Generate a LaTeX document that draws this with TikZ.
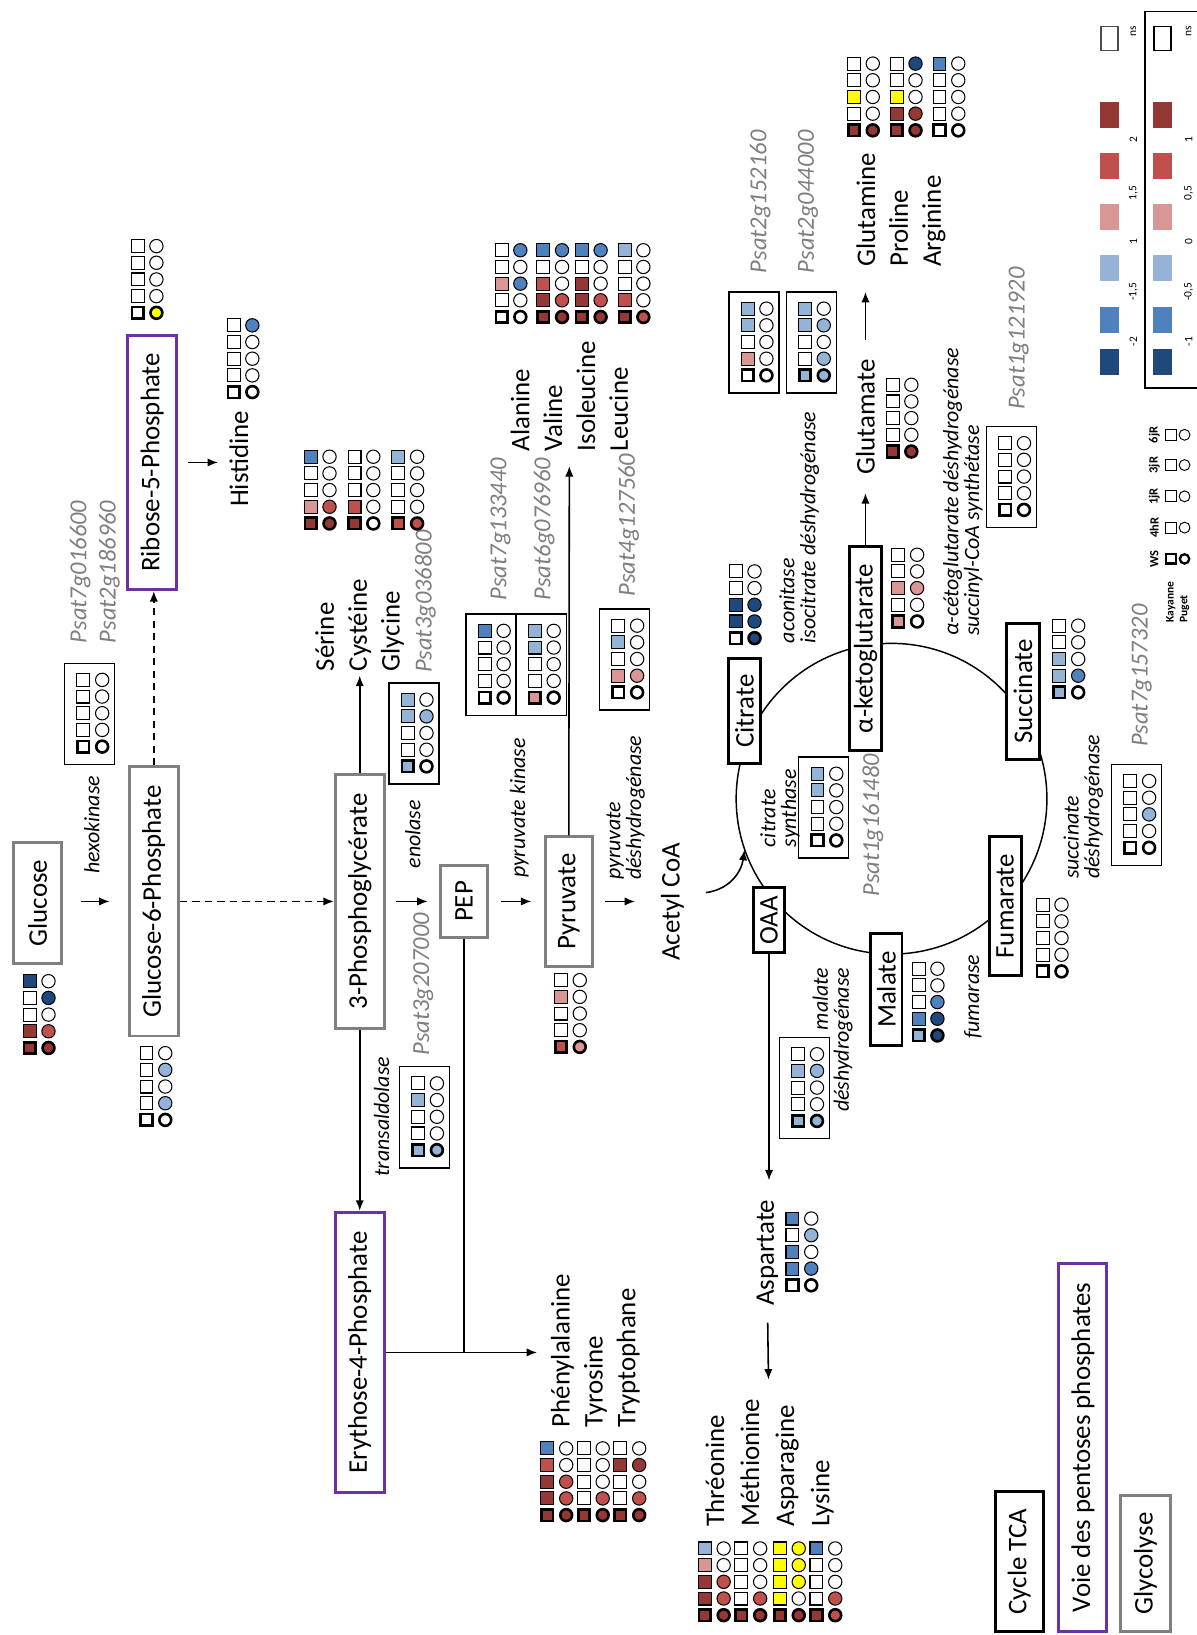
\documentclass[tikz,border=0pt]{standalone}
\usepackage{fontspec}
\setmainfont{Carlito}
\usetikzlibrary{arrows.meta,calc}
\definecolor{DB}{HTML}{1F497D}
\definecolor{MB}{HTML}{4F81BD}
\definecolor{LB}{HTML}{95B3D7}
\definecolor{LR}{HTML}{D99694}
\definecolor{MR}{HTML}{C0504D}
\definecolor{DR}{HTML}{953735}
\definecolor{WH}{HTML}{FFFFFF}
\definecolor{YE}{HTML}{FFFF00}
\definecolor{GRY}{HTML}{808080}
\definecolor{PUR}{HTML}{7030A0}
\definecolor{GENE}{HTML}{7F7F7F}
\newcommand\MetFont{\fontsize{25.8}{31.5}\selectfont}
\newcommand\ThrFont{\fontsize{25.8}{33.6}\selectfont}
\newcommand\EnzFont{\fontsize{21}{20}\selectfont\itshape}
\newcommand\GeneFont{\fontsize{23.5}{28}\selectfont\itshape}
\newcommand\LegFont{\fontsize{11}{13}\selectfont}
\newcommand\LegBold{\fontsize{12}{13}\selectfont\bfseries}
\newcommand\KPFont{\fontsize{11}{13}\selectfont\bfseries}
% glyph group: #1 x of square column, #2 y of WS row, #3 squares (WS..6jR), #4 circles
\newcommand\glgrp[4]{%
  \foreach \cc [count=\ii from 0] in {#3}{%
    \ifnum\ii=0 \def\hs{5.5}\def\lw{2.5pt}\else\def\hs{6.2}\def\lw{1pt}\fi
    \filldraw[fill=\cc, line width=\lw] ({#1-\hs},{#2-16*\ii-\hs}) rectangle ({#1+\hs},{#2-16*\ii+\hs});
  }%
  \foreach \cc [count=\ii from 0] in {#4}{%
    \ifnum\ii=0 \def\hs{5.7}\def\lw{2.5pt}\else\def\hs{6.4}\def\lw{1pt}\fi
    \filldraw[fill=\cc, line width=\lw] ({#1+18},{#2-16*\ii}) circle[radius=\hs pt];
  }%
}
\newcommand\glbox[4]{%
  \draw[line width=1.3pt] ({#1-18},{#2-80}) rectangle ({#1+30},{#2+17});
  \glgrp{#1}{#2}{#3}{#4}}
\begin{document}
\begin{tikzpicture}[x=1pt,y=-1pt,
  metab/.style={draw, line width=2.8pt, fill=white, rotate=90, font=\MetFont, inner sep=0pt},
  gly/.style={metab, draw=GRY},
  ppp/.style={metab, draw=PUR},
  tca/.style={metab, draw=black},
  sz/.style 2 args={minimum width=#2, minimum height=#1},
  txt/.style={rotate=90, font=\MetFont, inner sep=0pt},
  enz/.style={rotate=90, font=\EnzFont, inner sep=0pt},
  gene/.style={rotate=90, font=\GeneFont, text=GENE, inner sep=0pt},
  leg/.style={rotate=90, font=\LegFont, inner sep=0pt},
  arr/.style={-{Latex[length=10pt,width=8pt]}, line width=1.5pt},
  dsh/.style={arr, dash pattern=on 7pt off 5pt},
]
\useasboundingbox (0,0) rectangle (1147,1568);
\fill[white] (0,0) rectangle (1147,1568);

% TCA cycle circle
\draw[line width=1.4pt] (855,766) circle[radius=149pt];

% ---------- metabolite boxes ----------
\node[gly, sz={46}{116}] (glc) at (36,866) {Glucose};
\node[gly, sz={47}{258}] (g6p) at (147.5,864.5) {Glucose-6-Phosphate};
\node[ppp, sz={47}{244}] (r5p) at (146,443.5) {Ribose-5-Phosphate};
\node[gly, sz={47}{243}] (pg3) at (345,864.5) {3-Phosphoglycérate};
\node[gly, sz={45}{69}] (pep) at (445,864.5) {PEP};
\node[gly, sz={45}{124}] (pyr) at (545.5,864.5) {Pyruvate};
\node[ppp, sz={47}{269}] (e4p) at (345,1297) {Erythose-4-Phosphate};
\node[tca, sz={31}{101}] (cit) at (714,682) {Citrate};
\node[tca, sz={31}{196}] (akg) at (830,622) {α-ketoglutarate};
\node[tca, sz={31}{130}] (suc) at (981,663) {Succinate};
\node[tca, sz={31}{133}] (fum) at (964,869) {Fumarate};
\node[tca, sz={30}{107}] (mal) at (850,949) {Malate};
\node[tca, sz={30}{62}] (oaa) at (737.5,882.5) {OAA};

% ---------- product texts ----------
\node[txt] (his) at (229,440) {Histidine};
\node[txt, align=left, anchor=west] (ser) at (345,644) {Sérine\\Cystéine\\Glycine};
\node[txt, align=left, anchor=west] (aa) at (546,433) {Alanine\\Valine\\Isoleucine\\Leucine};
\node[txt] (acoa) at (645,865) {Acetyl CoA};
\node[txt, align=left, anchor=west] (phe) at (571,1369) {Phénylalanine\\Tyrosine\\Tryptophane};
\node[txt] (asp) at (736,1201.5) {Aspartate};
\node[txt, align=left, anchor=west, font=\ThrFont] (thr) at (738,1464) {Thréonine\\Méthionine\\Asparagine\\Lysine};
\node[txt] (glu) at (830,400) {Glutamate};
\node[txt, align=left, anchor=west] (gln) at (864,256) {Glutamine\\Proline\\Arginine};

% ---------- enzyme labels ----------
\node[enz] (hk) at (88,791) {hexokinase};
\node[enz] (eno) at (396,800) {enolase};
\node[enz] (tald) at (366,1071) {transaldolase};
\node[enz] (pk) at (498,775) {pyruvate kinase};
\node[enz, align=left, anchor=west] (pdhl) at (600,844) {pyruvate\\déshydrogénase};
\node[enz, align=left, anchor=west] (aco) at (766.5,617) {aconitase\\isocitrate déshydrogénase};
\node[enz, align=left, anchor=west] (cs) at (748,812.6) {citrate\\synthase};
\node[enz, align=left, anchor=west] (kgdh) at (923.5,610) {α-cétoglutarate déshydrogénase\\succinyl-CoA synthétase};
\node[enz, align=left, anchor=west] (sdhl) at (1039,843) {succinate\\déshydrogénase};
\node[enz] (fuml) at (933,956) {fumarase};
\node[enz, align=right, anchor=east] (mdhl) at (798.5,928) {malate\\déshydrogénase};

% ---------- gene ids ----------
\node[gene, align=left, anchor=west] (g1) at (91,617) {Psat7g016600\\Psat2g186960};
\node[gene] (g2) at (406,944) {Psat3g207000};
\node[gene] (g3) at (408,577) {Psat3g036800};
\node[gene, anchor=west] (g4) at (480,576) {Psat7g133440};
\node[gene, anchor=west] (g5) at (522,576) {Psat6g076960};
\node[gene, anchor=west] (g6) at (603,572) {Psat4g127560};
\node[gene] (g7) at (729,193.5) {Psat2g152160};
\node[gene] (g8) at (775,193.5) {Psat2g044000};
\node[gene] (g9) at (977,324.6) {Psat1g121920};
\node[gene] (g10) at (837,791.5) {Psat1g161480};
\node[gene] (g11) at (1095,648) {Psat7g157320};

% ---------- connectors ----------
\coordinate (acoaIn) at (609,864.5);
\coordinate (hisIn) at (209,443.5);
\coordinate (serIn) at (345,648);
\coordinate (aaIn) at (546,447);
\coordinate (pheIn) at (515,1297);
\coordinate (aspIn) at (737.5,1132);
\coordinate (thrIn) at (737,1323);
\coordinate (gluIn) at (830,473);
\coordinate (glnIn) at (830,280);
\coordinate (acS) at (677,856);
\coordinate (acE) at (714,815);

\draw[arr, shorten <=17pt, shorten >=17.5pt] (glc.south |- g6p.north) -- (g6p.north);
\draw[dsh] (g6p.east) -- (g6p.east |- r5p.west);
\draw[dsh] (g6p.south) -- (pg3.north);
\draw[arr, shorten <=9pt] (r5p.south) -- (hisIn);
\draw[arr] (pg3.east) -- (serIn);
\draw[arr, shorten <=10pt, shorten >=11pt] (pg3.south) -- (pep.north);
\draw[arr, shorten <=12pt, shorten >=12pt] (pep.south) -- (pyr.north);
\draw[arr, shorten <=11pt] (pyr.south) -- (acoaIn);
\draw[arr] (pyr.east) -- (aaIn);
\draw[arr] (pg3.west) -- (e4p.east);
\draw[arr] (e4p.south) -- (pheIn);
\draw[line width=1.5pt] (pep.west) -- (pep.west |- pheIn);
\draw[arr] (oaa.west) -- (aspIn);
\draw[arr, shorten <=16pt] (asp.west) -- (thrIn);
\draw[arr] (akg.east) -- (gluIn);
\draw[arr, shorten <=19pt] (glu.east) -- (glnIn);
\draw[arr] (acS) .. controls (700,853) and (711,836) .. (acE);

% ---------- glyph groups ----------
\glgrp{28.5}{1005}{DR,DR,WH,WH,DB}{DR,MR,WH,DB,WH}
\glgrp{140.5}{1074}{WH,WH,WH,WH,WH}{WH,LB,WH,LB,WH}
\glgrp{132}{300}{WH,WH,WH,WH,WH}{YE,WH,WH,WH,WH}
\glgrp{224}{376}{WH,WH,WH,WH,WH}{WH,WH,WH,WH,MB}
\glgrp{298}{502}{DR,LR,WH,WH,MB}{DR,MR,WH,WH,WH}
\glgrp{340}{502}{DR,MR,WH,WH,WH}{WH,WH,WH,WH,WH}
\glgrp{382}{502}{MR,WH,WH,WH,LB}{MR,WH,WH,WH,WH}
\glbox{80}{716}{WH,WH,WH,WH,WH}{WH,WH,WH,WH,WH}
\glbox{391}{735}{LB,WH,WH,LB,LB}{WH,WH,WH,LB,WH}
\glbox{401}{1103}{LB,WH,WH,LB,WH}{LB,WH,WH,WH,WH}
\glbox{465}{669}{WH,WH,WH,WH,MB}{WH,WH,WH,WH,WH}
\glbox{513}{669}{LR,WH,WH,LB,LB}{WH,WH,WH,WH,WH}
\glbox{593}{664}{WH,LR,WH,LB,WH}{WH,LR,WH,WH,WH}
\glgrp{538}{1004}{MR,WH,WH,LR,WH}{LR,WH,WH,WH,WH}
\glgrp{481}{304}{WH,WH,LR,WH,WH}{WH,WH,MB,WH,MB}
\glgrp{521}{304}{DR,DR,MR,WH,MB}{DR,MR,WH,WH,MB}
\glgrp{558}{304}{DR,DR,DR,WH,MB}{DR,MR,WH,WH,MB}
\glgrp{599}{304}{DR,MR,WH,WH,LB}{MR,WH,WH,WH,WH}
\glgrp{525}{1453}{DR,DR,DR,MR,MB}{DR,MR,MR,WH,WH}
\glgrp{560}{1453}{DR,WH,WH,WH,WH}{DR,MR,WH,WH,WH}
\glgrp{595}{1453}{DR,WH,WH,DR,WH}{DR,MR,WH,DR,WH}
\glbox{717}{360}{WH,LR,WH,LB,LB}{WH,WH,WH,WH,WH}
\glbox{772}{360}{LB,WH,WH,LB,LB}{LB,LB,WH,LB,WH}
\glgrp{819}{125}{DR,WH,YE,WH,WH}{DR,WH,WH,WH,WH}
\glgrp{860}{125}{DR,DR,YE,WH,WH}{DR,DR,WH,WH,DB}
\glgrp{901}{125}{WH,WH,WH,WH,MB}{WH,WH,WH,WH,WH}
\glgrp{856}{433}{DR,WH,WH,WH,WH}{DR,WH,WH,WH,WH}
\glbox{964}{489}{WH,WH,WH,WH,WH}{WH,WH,WH,WH,WH}
\glgrp{705.6}{612}{WH,DB,DB,WH,WH}{DB,DB,DB,WH,WH}
\glgrp{861.5}{596}{LR,WH,LR,WH,WH}{WH,WH,LR,WH,WH}
\glbox{784}{806}{WH,WH,WH,LB,LB}{WH,WH,WH,WH,WH}
\glgrp{1016}{664}{LB,LB,LB,WH,WH}{WH,MB,WH,WH,WH}
\glbox{1084}{813}{WH,WH,WH,WH,WH}{WH,WH,LB,WH,WH}
\glgrp{1000}{931.6}{WH,WH,WH,WH,WH}{WH,WH,WH,WH,WH}
\glgrp{881}{993}{LB,MB,WH,WH,WH}{DB,DB,MB,WH,WH}
\glbox{765.5}{1075}{LB,WH,WH,LB,WH}{LB,WH,WH,LB,WH}
\glgrp{760}{1232.6}{WH,MB,MB,WH,MB}{WH,MB,WH,LB,WH}
\glgrp{676}{1549}{DR,DR,DR,LR,LB}{DR,MR,MR,WH,WH}
\glgrp{711}{1549}{DR,WH,WH,WH,WH}{DR,MR,WH,WH,WH}
\glgrp{748}{1549}{DR,YE,YE,YE,YE}{DR,WH,YE,YE,YE}
\glgrp{783}{1549}{DR,WH,WH,WH,MB}{MR,MR,WH,WH,WH}

% ---------- legend: colour scale ----------
\foreach \cc/\yy in {DB/346.9, MB/306.9, LB/257.3, LR/207.8, MR/158.9, DR/110.3}{
  \fill[\cc] (1055,\yy-12.5) rectangle (1073,\yy+12.5);
  \fill[\cc] (1106,\yy-12.5) rectangle (1124,\yy+12.5);
}
\draw[line width=1.6pt, draw=black!70, fill=white] (1056,25.5) rectangle (1072,48.5);
\draw[line width=1.6pt, fill=white] (1107,25.5) rectangle (1123,48.5);
\draw[line width=1.6pt] (1098,11) rectangle (1152,372);
\node[leg] (l1a) at (1087,327.7) {-2};
\node[leg] (l1b) at (1087,279.7) {-1,5};
\node[leg] (l1c) at (1087,231.8) {1};
\node[leg] (l1d) at (1087,185.4) {1,5};
\node[leg] (l1e) at (1087,134.3) {2};
\node[leg] (l1f) at (1087,30.4) {ns};
\node[leg] (l2a) at (1140,327.7) {-1};
\node[leg] (l2b) at (1140,279.7) {-0,5};
\node[leg] (l2c) at (1140,231.8) {0};
\node[leg] (l2d) at (1140,185.4) {0,5};
\node[leg] (l2e) at (1140,134.3) {1};
\node[leg] (l2f) at (1140,30.4) {ns};

% ---------- legend: glyph key ----------
\foreach \yy/\hh [count=\ii from 0] in {536/WS, 506/4hR, 476/1jR, 446/3jR, 417/6jR}{
  \node[leg, font=\LegBold] at (1107,\yy) {\hh};
  \ifnum\ii=0 \def\hs{4.5}\def\lw{2.2pt}\else\def\hs{5.2}\def\lw{0.9pt}\fi
  \filldraw[fill=white, line width=\lw] ({1123-\hs},{\yy-\hs}) rectangle ({1123+\hs},{\yy+\hs});
  \filldraw[fill=white, line width=\lw] (1136,\yy) circle[radius=\hs pt];
}
\node[leg, font=\KPFont, align=left, anchor=west] (kp) at (1129.5,597) {Kayanne\\Puget};

% ---------- legend: pathways ----------
\node[tca, sz={46}{134}] (lt) at (977.5,1497.5) {Cycle TCA};
\node[ppp, sz={46}{353}] (lp) at (1038.5,1388) {Voie des pentoses phosphates};
\node[gly, sz={48}{130}] (lg) at (1098.5,1499.5) {Glycolyse};
\end{tikzpicture}
\end{document}
